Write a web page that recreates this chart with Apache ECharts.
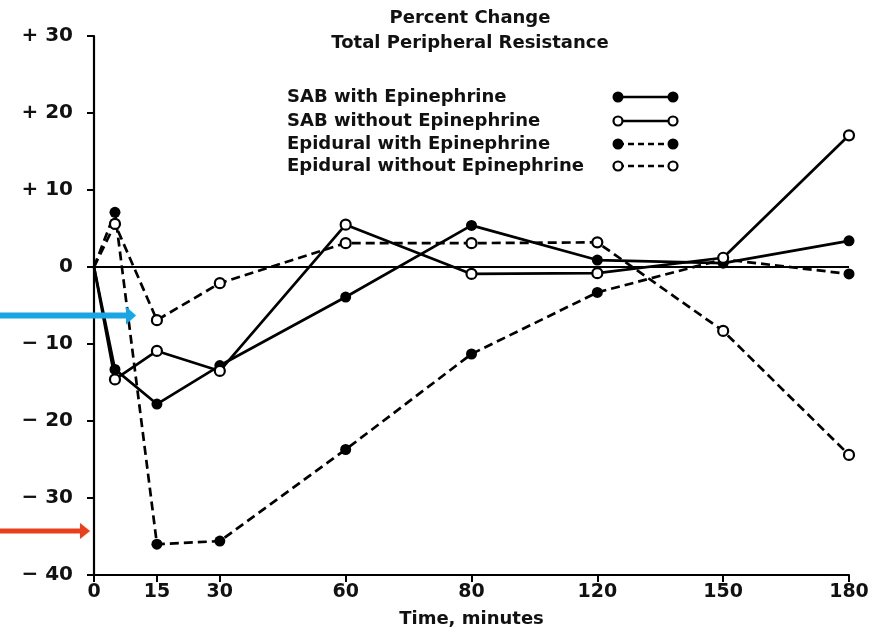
<!DOCTYPE html>
<html>
<head>
<meta charset="utf-8">
<script src="https://cdn.jsdelivr.net/npm/echarts@6/dist/echarts.min.js"></script>
<style>html,body{margin:0;padding:0;background:#fff}#c{width:876px;height:632px}</style>
</head>
<body>
<div id="c"></div>
<script>
// ---- data ----
var times = [0, 5, 15, 30, 60, 90, 120, 150, 180];
var sabWith = [0, -13.3, -17.8, -12.8, -3.9, 5.4, 0.9, 0.5, 3.4];
var sabWithout = [0, -14.6, -10.9, -13.5, 5.5, -0.9, -0.8, 1.2, 17.1];
var epiWith = [0, 7.1, -36.0, -35.6, -23.7, -11.3, -3.3, 1.0, -0.9];
var epiWithout = [0, 5.6, -6.9, -2.1, 3.1, 3.1, 3.2, -8.3, -24.4];
var seriesNames = ['SAB with Epinephrine', 'SAB without Epinephrine', 'Epidural with Epinephrine', 'Epidural without Epinephrine'];
var xTickValues = [0, 15, 30, 60, 90, 120, 150, 180];
var xTickLabels = ['0', '15', '30', '60', '80', '120', '150', '180'];
var yTickValues = [30, 20, 10, 0, -10, -20, -30, -40];
var yTickLabels = ['+ 30', '+ 20', '+ 10', '0', '\u2212 10', '\u2212 20', '\u2212 30', '\u2212 40'];
var titleLines = ['Percent Change', 'Total Peripheral Resistance'];
var xAxisName = 'Time, minutes';

var FONT = 'DejaVu Sans';
function pts(vals) {
  return vals.map(function (v, i) {
    var d = { value: [times[i], v] };
    if (i === 0) d.symbol = 'none';
    return d;
  });
}
function mkSeries(name, vals, filled, dashed) {
  return {
    type: 'line', name: name, data: pts(vals),
    symbol: 'circle', symbolSize: filled ? 11 : 10,
    lineStyle: { color: '#000', width: 2.7, type: dashed ? [9, 5] : 'solid' },
    itemStyle: filled ? { color: '#000' } : { color: '#fff', borderColor: '#000', borderWidth: 2.2 },
    z: filled ? 3 : 4,
    animation: false
  };
}
var chart = echarts.init(document.getElementById('c'), null, { renderer: 'canvas' });
var series = [
  mkSeries(seriesNames[0], sabWith, true, false),
  mkSeries(seriesNames[1], sabWithout, false, false),
  mkSeries(seriesNames[2], epiWith, true, true),
  mkSeries(seriesNames[3], epiWithout, false, true)
];
series[0].markLine = {
  silent: true, symbol: 'none', label: { show: false },
  lineStyle: { color: '#000', width: 1.8, type: 'solid' },
  data: [{ yAxis: 0 }], animation: false
};

// legend graphics
var legendGraphics = [];
var rowY = [97, 121, 144, 166];
seriesNames.forEach(function (n, i) {
  var y = rowY[i];
  var filled = (i % 2 === 0), dashed = i >= 2;
  legendGraphics.push({ type: 'text', x: 287, y: y, style: { text: n, font: 'bold 18px "' + FONT + '"', fill: '#111', verticalAlign: 'middle' } });
  legendGraphics.push({ type: 'line', shape: { x1: 618, y1: y, x2: 673, y2: y }, style: { stroke: '#000', lineWidth: 2.5, lineDash: dashed ? [6, 4] : null } });
  [618, 673].forEach(function (cx) {
    legendGraphics.push({ type: 'circle', shape: { cx: cx, cy: y, r: filled ? 5.5 : 4.5 }, style: filled ? { fill: '#000' } : { fill: '#fff', stroke: '#000', lineWidth: 2.2 } });
  });
});
titleLines.forEach(function (t, i) {
  legendGraphics.push({ type: 'text', x: 470, y: 18 + i * 25, style: { text: t, font: 'bold 18px "' + FONT + '"', fill: '#111', align: 'center', verticalAlign: 'middle' } });
});

chart.setOption({
  backgroundColor: '#fff',
  animation: false,
  grid: { left: 94, right: 27, top: 36, bottom: 57, containLabel: false, outerBoundsMode: 'none' },
  xAxis: {
    type: 'value', min: 0, max: 180, interval: 15,
    name: xAxisName, nameLocation: 'middle', nameGap: 35,
    nameTextStyle: { fontFamily: FONT, fontSize: 18, fontWeight: 'bold', color: '#111' },
    axisLine: { show: true, onZero: false, lineStyle: { color: '#000', width: 2.2 } },
    axisTick: { show: true, length: 7, lineStyle: { color: '#000', width: 2 }, customValues: xTickValues },
    axisLabel: {
      customValues: xTickValues, margin: 8, color: '#111', fontFamily: FONT, fontSize: 19, fontWeight: 'bold',
      formatter: function (v) { var k = xTickValues.indexOf(v); return k >= 0 ? xTickLabels[k] : ''; }
    },
    splitLine: { show: false }
  },
  yAxis: {
    type: 'value', min: -40, max: 30, interval: 10,
    axisLine: { show: true, onZero: false, lineStyle: { color: '#000', width: 2.2 } },
    axisTick: { show: true, length: 7, lineStyle: { color: '#000', width: 2 } },
    axisLabel: {
      margin: 21, color: '#111', fontFamily: FONT, fontSize: 20, fontWeight: 'bold',
      formatter: function (v) { var k = yTickValues.indexOf(v); return k >= 0 ? yTickLabels[k] : ''; }
    },
    splitLine: { show: false }
  },
  series: series,
  graphic: legendGraphics
});

// annotation arrows (pointing at axis levels)
function arrow(yVal, tipX, color, shaft, headH, headL) {
  var y = chart.convertToPixel({ gridIndex: 0 }, [0, yVal])[1];
  return {
    type: 'polygon',
    shape: { points: [[0, y - shaft / 2], [tipX - headL, y - shaft / 2], [tipX - headL, y - headH / 2], [tipX, y], [tipX - headL, y + headH / 2], [tipX - headL, y + shaft / 2], [0, y + shaft / 2]] },
    style: { fill: color }, z: 100
  };
}
var arrows = [arrow(-6.3, 136, '#1aa6e2', 6, 18, 10), arrow(-34.3, 90, '#e8401c', 5, 16, 10)];
chart.setOption({ graphic: legendGraphics.concat(arrows) });
</script>
</body>
</html>
